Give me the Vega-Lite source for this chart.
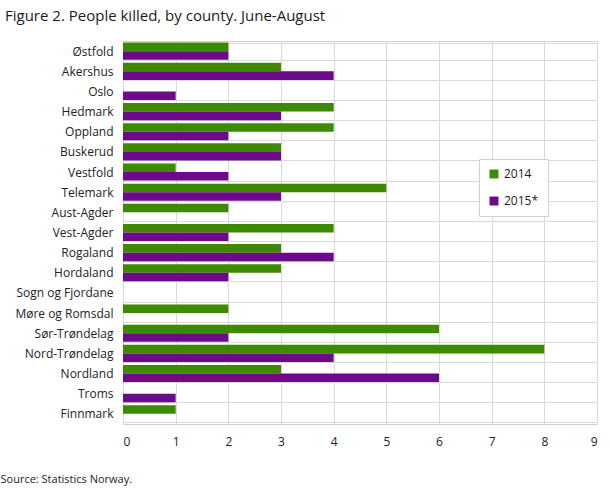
{
  "$schema": "https://vega.github.io/schema/vega-lite/v6.json",
  "autosize": "none",
  "width": 474,
  "height": 383,
  "padding": {"left": 123, "top": 41, "right": 12, "bottom": 64},
  "background": "white",
  "title": {
    "text": "Figure 2. People killed, by county. June-August",
    "anchor": "start",
    "frame": "group",
    "dx": -118,
    "offset": 11,
    "font": "Open Sans",
    "fontSize": 15,
    "fontWeight": "normal",
    "color": "#1a1a1a"
  },
  "data": {
    "values": [
      {"county": "Østfold", "year": "2014", "killed": 2},
      {"county": "Østfold", "year": "2015*", "killed": 2},
      {"county": "Akershus", "year": "2014", "killed": 3},
      {"county": "Akershus", "year": "2015*", "killed": 4},
      {"county": "Oslo", "year": "2014", "killed": 0},
      {"county": "Oslo", "year": "2015*", "killed": 1},
      {"county": "Hedmark", "year": "2014", "killed": 4},
      {"county": "Hedmark", "year": "2015*", "killed": 3},
      {"county": "Oppland", "year": "2014", "killed": 4},
      {"county": "Oppland", "year": "2015*", "killed": 2},
      {"county": "Buskerud", "year": "2014", "killed": 3},
      {"county": "Buskerud", "year": "2015*", "killed": 3},
      {"county": "Vestfold", "year": "2014", "killed": 1},
      {"county": "Vestfold", "year": "2015*", "killed": 2},
      {"county": "Telemark", "year": "2014", "killed": 5},
      {"county": "Telemark", "year": "2015*", "killed": 3},
      {"county": "Aust-Agder", "year": "2014", "killed": 2},
      {"county": "Aust-Agder", "year": "2015*", "killed": 0},
      {"county": "Vest-Agder", "year": "2014", "killed": 4},
      {"county": "Vest-Agder", "year": "2015*", "killed": 2},
      {"county": "Rogaland", "year": "2014", "killed": 3},
      {"county": "Rogaland", "year": "2015*", "killed": 4},
      {"county": "Hordaland", "year": "2014", "killed": 3},
      {"county": "Hordaland", "year": "2015*", "killed": 2},
      {"county": "Sogn og Fjordane", "year": "2014", "killed": 0},
      {"county": "Sogn og Fjordane", "year": "2015*", "killed": 0},
      {"county": "Møre og Romsdal", "year": "2014", "killed": 2},
      {"county": "Møre og Romsdal", "year": "2015*", "killed": 0},
      {"county": "Sør-Trøndelag", "year": "2014", "killed": 6},
      {"county": "Sør-Trøndelag", "year": "2015*", "killed": 2},
      {"county": "Nord-Trøndelag", "year": "2014", "killed": 8},
      {"county": "Nord-Trøndelag", "year": "2015*", "killed": 4},
      {"county": "Nordland", "year": "2014", "killed": 3},
      {"county": "Nordland", "year": "2015*", "killed": 6},
      {"county": "Troms", "year": "2014", "killed": 0},
      {"county": "Troms", "year": "2015*", "killed": 1},
      {"county": "Finnmark", "year": "2014", "killed": 1},
      {"county": "Finnmark", "year": "2015*", "killed": 0}
    ]
  },
  "mark": {"type": "bar", "cornerRadius": 0},
  "encoding": {
    "y": {
      "field": "county",
      "type": "nominal",
      "sort": null,
      "scale": {"paddingInner": 0.15, "paddingOuter": 0.08},
      "axis": {
        "title": null,
        "ticks": false,
        "domain": false,
        "tickBand": "extent",
        "grid": true,
        "gridColor": "#d9d9d9",
        "labelFont": "Open Sans",
        "labelFontSize": 12,
        "labelColor": "#222222",
        "labelPadding": 10
      }
    },
    "yOffset": {"field": "year", "type": "nominal"},
    "x": {
      "field": "killed",
      "type": "quantitative",
      "scale": {"domain": [0, 9], "nice": false},
      "axis": {
        "values": [0, 1, 2, 3, 4, 5, 6, 7, 8, 9],
        "format": "d",
        "ticks": false,
        "domain": false,
        "grid": true,
        "gridColor": "#d9d9d9",
        "labelFont": "Open Sans",
        "labelFontSize": 12,
        "labelColor": "#222222",
        "labelPadding": 12,
        "title": "Source: Statistics Norway.",
        "titleFont": "Open Sans",
        "titleFontSize": 11,
        "titleFontWeight": "normal",
        "titleColor": "#222222",
        "titleAnchor": "start",
        "titleAlign": "left",
        "titleBaseline": "alphabetic",
        "titleX": -123,
        "titleY": 58
      }
    },
    "color": {
      "field": "year",
      "type": "nominal",
      "scale": {"domain": ["2014", "2015*"], "range": ["#3d8a00", "#6b0a8a"]},
      "legend": {
        "title": null,
        "orient": "none",
        "legendX": 356,
        "legendY": 118,
        "symbolType": "square",
        "symbolSize": 80,
        "symbolStrokeWidth": 0,
        "labelFont": "Open Sans",
        "labelFontSize": 12,
        "labelOffset": 4,
        "labelColor": "#222222",
        "rowPadding": 15,
        "padding": 9,
        "strokeColor": "#d0d0d0",
        "fillColor": "white"
      }
    }
  },
  "config": {
    "view": {"stroke": "#d0d0d0"}
  }
}
